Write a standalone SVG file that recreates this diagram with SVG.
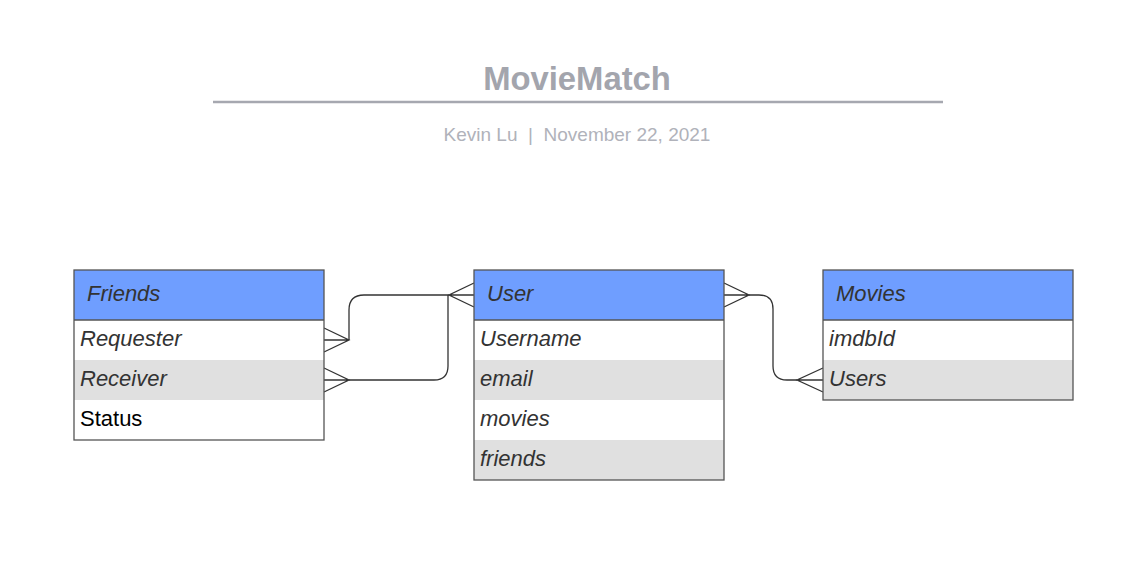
<svg xmlns="http://www.w3.org/2000/svg" width="1143" height="567" viewBox="0 0 1143 567">
<style>
.hdr{fill:#6f9eff;}
.row{fill:#ffffff;}
.alt{fill:#e0e0e0;}
.frame{fill:none;stroke:#555555;stroke-width:1.3;}
.sep{stroke:#555555;stroke-width:1.3;}
.t{font-family:"Liberation Sans",Arial,sans-serif;font-size:22px;font-style:italic;fill:#333333;}
.plain{font-style:normal;fill:#000000;}
.conn{fill:none;stroke:#333333;stroke-width:1.3;}
</style>
<rect width="1143" height="567" fill="#ffffff"/>
<g id="title">
<text x="577" y="90" text-anchor="middle" font-family="'Liberation Sans',Arial,sans-serif" font-size="32.8" font-weight="bold" fill="#a3a5ad">MovieMatch</text>
<line x1="213" y1="102" x2="943" y2="102" stroke="#a6a8b0" stroke-width="2.5"/>
<text x="577" y="141" text-anchor="middle" font-family="'Liberation Sans',Arial,sans-serif" font-size="19" fill="#b0b2ba" xml:space="preserve">Kevin Lu  |  November 22, 2021</text>
</g>
<g id="connectors">
<path class="conn" d="M324,328 L349,340 L324,352 M324,340 L349,340"/>
<path class="conn" d="M349,340 V310 Q349,295 364,295 H449"/>
<path class="conn" d="M324,368 L349,380 L324,392 M324,380 L349,380"/>
<path class="conn" d="M349,380 H434 Q448,380 448,366 V295"/>
<path class="conn" d="M474,283 L449,295 L474,307 M474,295 L449,295"/>
<path class="conn" d="M724,283 L749,295 L724,307 M724,295 L749,295"/>
<path class="conn" d="M749,295 H759 Q773,295 773,309 V366 Q773,380 787,380 H797"/>
<path class="conn" d="M823,368 L797,380 L823,392 M823,380 L797,380"/>
</g>
<g id="friends">
<rect class="hdr" x="74" y="270" width="250" height="50"/>
<rect class="row" x="74" y="320" width="250" height="40"/>
<rect class="alt" x="74" y="360" width="250" height="40"/>
<rect class="row" x="74" y="400" width="250" height="40"/>
<line class="sep" x1="74" y1="320" x2="324" y2="320"/>
<rect class="frame" x="74" y="270" width="250" height="170"/>
<text class="t" x="87" y="301">Friends</text>
<text class="t" x="80" y="346">Requester</text>
<text class="t" x="80" y="386">Receiver</text>
<text class="t plain" x="80" y="426">Status</text>
</g>
<g id="user">
<rect class="hdr" x="474" y="270" width="250" height="50"/>
<rect class="row" x="474" y="320" width="250" height="40"/>
<rect class="alt" x="474" y="360" width="250" height="40"/>
<rect class="row" x="474" y="400" width="250" height="40"/>
<rect class="alt" x="474" y="440" width="250" height="40"/>
<line class="sep" x1="474" y1="320" x2="724" y2="320"/>
<rect class="frame" x="474" y="270" width="250" height="210"/>
<text class="t" x="487" y="301">User</text>
<text class="t" x="480" y="346">Username</text>
<text class="t" x="480" y="386">email</text>
<text class="t" x="480" y="426">movies</text>
<text class="t" x="480" y="466">friends</text>
</g>
<g id="movies">
<rect class="hdr" x="823" y="270" width="250" height="50"/>
<rect class="row" x="823" y="320" width="250" height="40"/>
<rect class="alt" x="823" y="360" width="250" height="40"/>
<line class="sep" x1="823" y1="320" x2="1073" y2="320"/>
<rect class="frame" x="823" y="270" width="250" height="130"/>
<text class="t" x="836" y="301">Movies</text>
<text class="t" x="829" y="346">imdbId</text>
<text class="t" x="829" y="386">Users</text>
</g>
</svg>
